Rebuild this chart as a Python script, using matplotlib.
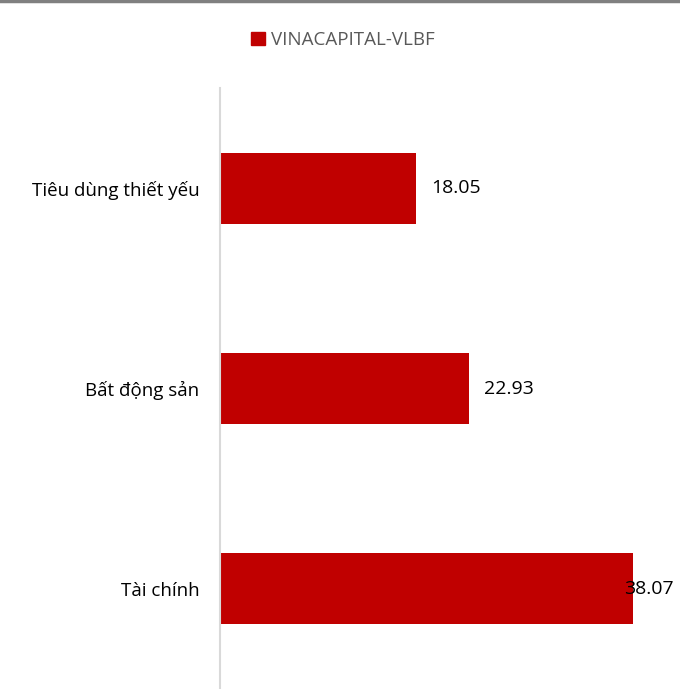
import matplotlib.pyplot as plt
from matplotlib.lines import Line2D
from matplotlib.patches import Patch

plt.rcParams['font.family'] = ['Open Sans', 'DejaVu Sans']

# data
categories = ['Tiêu dùng thiết yếu', 'Bất động sản', 'Tài chính']
values = [18.05, 22.93, 38.07]
series_name = 'VINACAPITAL-VLBF'
bar_color = '#C00000'

W, H = 680, 689
fig = plt.figure(figsize=(W / 100, H / 100), dpi=100)
ax = fig.add_axes([220 / W, 0, 460 / W, 601 / H])

y = range(len(categories))
ax.barh(y, values, height=0.355, color=bar_color)
ax.set_xlim(0, 42.36)
ax.set_ylim(len(categories) - 0.5, -0.5)

ax.set_yticks(list(y))
ax.set_yticklabels(categories, fontsize=13.5, color='#000000')
ax.tick_params(axis='y', length=0, pad=15)
ax.set_xticks([])
for s in ['top', 'right', 'bottom']:
    ax.spines[s].set_visible(False)
ax.spines['left'].set_color('#D9D9D9')
ax.spines['left'].set_linewidth(1.5)

# data labels, kept inside the plot area when they would overflow
xmax = ax.get_xlim()[1]
for i, v in enumerate(values):
    if v + 6 < xmax:
        ax.annotate(f'{v:.2f}', (v, i), xytext=(15, 0), textcoords='offset pixels',
                    va='center', ha='left', fontsize=14)
    else:
        ax.annotate(f'{v:.2f}', (xmax, i), xytext=(-6, 0), textcoords='offset pixels',
                    va='center', ha='right', fontsize=14)

# legend
fig.legend(handles=[Patch(color=bar_color, label=series_name)],
           loc='center', bbox_to_anchor=(343 / W, 1 - 40 / H), frameon=False,
           fontsize=13.5, labelcolor='#595959', handlelength=0.75, handleheight=0.75,
           handletextpad=0.3)

# top border line
fig.add_artist(Line2D([0, 1], [1 - 1 / H, 1 - 1 / H], color='#808080', linewidth=2.5,
                      transform=fig.transFigure))

fig.savefig('out.png', dpi=100)
